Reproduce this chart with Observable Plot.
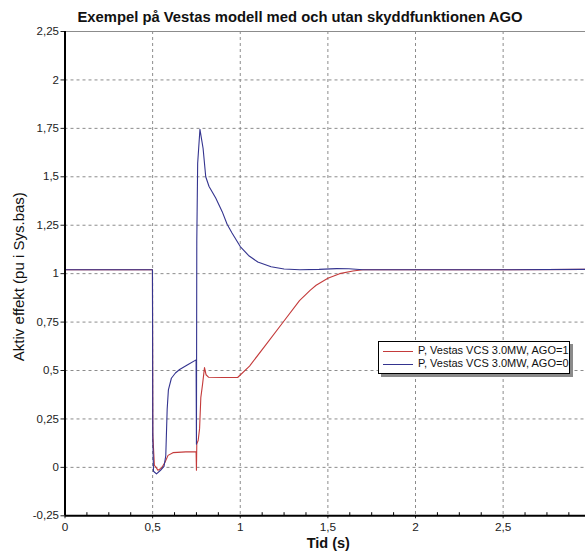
<!DOCTYPE html>
<html>
<head>
<meta charset="utf-8">
<script src="https://cdn.jsdelivr.net/npm/d3@7"></script>
<script src="https://cdn.jsdelivr.net/npm/@observablehq/plot@0.6"></script>
<style>
  body { margin: 0; background: #fff; font-family: "Liberation Sans", Arial, sans-serif; }
  #wrap { position: relative; width: 585px; height: 554px; overflow: hidden; }
  #title { position: absolute; top: 10px; left: 300px; transform: translateX(-50%); white-space: nowrap;
           font-size: 14.8px; line-height: 14px; font-weight: bold; color: #111; }
  #legend { position: absolute; left: 378px; top: 341px; width: 190px; height: 31px; background: #fff;
            border: 1px solid #000; box-shadow: 3px 3px 0 #8a8a8a; font-size: 11px; color: #111; }
  .row { position: absolute; left: 4px; height: 13px; line-height: 13px; white-space: nowrap; }
  .row span.sw { display: inline-block; width: 30px; height: 0; vertical-align: middle; margin-right: 5px; }
  #chart { position: absolute; left: 0; top: 0; }
</style>
</head>
<body>
<div id="wrap">
  <div id="chart"></div>
  <div id="title">Exempel på Vestas modell med och utan skyddfunktionen AGO</div>
  <div id="legend">
    <div class="row" style="top:2px"><span class="sw" id="sw1"></span><span id="l1"></span></div>
    <div class="row" style="top:15px"><span class="sw" id="sw2"></span><span id="l2"></span></div>
  </div>
</div>
<script>
// ---- data ----
const seriesNames = ["P, Vestas VCS 3.0MW, AGO=1", "P, Vestas VCS 3.0MW, AGO=0"];
const seriesColors = ["#c43b3b", "#34348f"];

// AGO=1 (red)
const tRed = [0, 0.499, 0.501, 0.505, 0.51, 0.52, 0.53, 0.55, 0.57, 0.588, 0.616, 0.69, 0.748, 0.750, 0.752, 0.76, 0.768, 0.775, 0.785, 0.796, 0.805, 0.82, 0.9, 0.985, 1.053, 1.148, 1.243, 1.338, 1.40, 1.433, 1.5, 1.567, 1.643, 1.7, 2.0, 2.5, 3.0];
const vRed = [1.02, 1.02, 0.17, 0.10, 0.01, 0.0, -0.015, -0.005, 0.025, 0.062, 0.076, 0.08, 0.08, -0.015, 0.12, 0.14, 0.2, 0.36, 0.43, 0.515, 0.478, 0.465, 0.464, 0.464, 0.523, 0.635, 0.748, 0.861, 0.915, 0.94, 0.976, 1.0, 1.014, 1.02, 1.02, 1.02, 1.022];

// AGO=0 (blue)
const tBlue = [0, 0.499, 0.501, 0.505, 0.522, 0.545, 0.565, 0.575, 0.583, 0.59, 0.607, 0.63, 0.654, 0.70, 0.748, 0.750, 0.752, 0.757, 0.77, 0.788, 0.803, 0.822, 0.86, 0.897, 0.925, 0.953, 1.0, 1.047, 1.10, 1.176, 1.25, 1.34, 1.45, 1.55, 1.62, 1.7, 2.0, 2.5, 3.0];
const vBlue = [1.02, 1.02, 0.15, -0.02, -0.034, -0.015, 0.005, 0.06, 0.30, 0.40, 0.46, 0.487, 0.505, 0.53, 0.555, 0.12, 1.17, 1.57, 1.745, 1.646, 1.50, 1.45, 1.39, 1.32, 1.255, 1.21, 1.14, 1.094, 1.06, 1.036, 1.024, 1.02, 1.022, 1.026, 1.025, 1.02, 1.02, 1.02, 1.022];

const xTicks = [0, 0.5, 1, 1.5, 2, 2.5];
const yTicks = [-0.25, 0, 0.25, 0.5, 0.75, 1, 1.25, 1.5, 1.75, 2, 2.25];
const xMinor = [0.125, 0.25, 0.375, 0.625, 0.75, 0.875, 1.125, 1.25, 1.375, 1.625, 1.75, 1.875, 2.125, 2.25, 2.375, 2.625, 2.75, 2.875];
const xTitle = "Tid (s)";
const yTitle = "Aktiv effekt (pu i Sys.bas)";

// ---- build ----
const red = tRed.map((t, i) => ({t, v: vRed[i]}));
const blue = tBlue.map((t, i) => ({t, v: vBlue[i]}));
const fmt = d => String(d).replace(".", ",");

const chart = Plot.plot({
  width: 585,
  height: 554,
  marginLeft: 64.5,
  marginRight: 0,
  marginTop: 31,
  marginBottom: 38.7,
  style: {fontFamily: "'Liberation Sans', Arial, sans-serif", background: "transparent"},
  x: {domain: [0, 2.97]},
  y: {domain: [-0.25, 2.25]},
  marks: [
    Plot.ruleY(yTicks.filter(d => d > -0.25 && d < 2.25), {stroke: "#8c8c8c", strokeDasharray: "3,3", strokeWidth: 1}),
    Plot.ruleX(xTicks.filter(d => d > 0), {stroke: "#8c8c8c", strokeDasharray: "3,3", strokeWidth: 1}),
    Plot.ruleY([2.25], {stroke: "#8c8c8c", strokeWidth: 1}),
    Plot.line(red, {x: "t", y: "v", stroke: seriesColors[0], strokeWidth: 1.1}),
    Plot.line(blue, {x: "t", y: "v", stroke: seriesColors[1], strokeWidth: 1.1}),
    Plot.ruleX(xMinor, {y1: -0.25, y2: -0.25 + 0.016, stroke: "#000", strokeWidth: 1}),
    Plot.axisY({ticks: yTicks, tickFormat: fmt, tickSize: 4, tickPadding: 2, fontSize: 11.5, label: null, color: "#222"}),
    Plot.axisX({ticks: xTicks, tickFormat: fmt, tickSize: 3, tickPadding: 4, fontSize: 11.8, label: null, color: "#222"}),
    Plot.ruleX([0], {stroke: "#000", strokeWidth: 2}),
    Plot.ruleY([-0.25], {stroke: "#000", strokeWidth: 2}),
    Plot.text([yTitle], {frameAnchor: "left", textAnchor: "middle", lineAnchor: "middle", rotate: -90, dx: -46, dy: 3, fontSize: 15, fill: "#111"}),
    Plot.text([xTitle], {frameAnchor: "bottom", textAnchor: "middle", lineAnchor: "middle", dx: 3, dy: 28, fontSize: 14.5, fontWeight: "bold", fill: "#111"})
  ]
});
document.getElementById("chart").appendChild(chart);

document.getElementById("sw1").style.borderTop = "1px solid " + seriesColors[0];
document.getElementById("sw2").style.borderTop = "1px solid " + seriesColors[1];
document.getElementById("l1").textContent = seriesNames[0];
document.getElementById("l2").textContent = seriesNames[1];
</script>
</body>
</html>
